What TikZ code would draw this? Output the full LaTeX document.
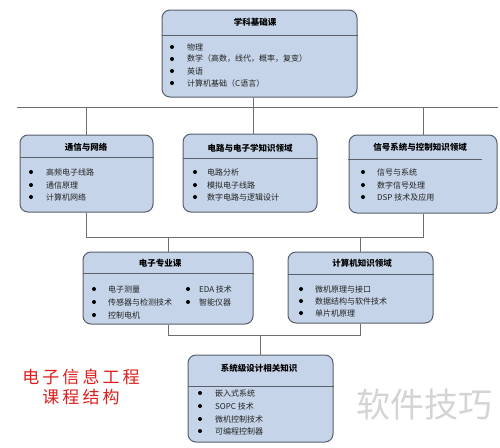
\documentclass[tikz,border=0pt]{standalone}
\usepackage{fontspec}
\newfontfamily\cjk{Noto Sans CJK SC}
\newfontfamily\cjkred[LetterSpace=18]{Noto Sans CJK SC}
\definecolor{boxfill}{RGB}{197,212,232}
\definecolor{boxborder}{RGB}{85,95,110}
\definecolor{hdrc}{RGB}{90,95,105}
\definecolor{connc}{RGB}{110,110,110}
\definecolor{txtc}{RGB}{35,35,35}
\definecolor{redc}{RGB}{222,30,30}
\definecolor{wmc}{RGB}{212,212,212}
\tikzset{
  box/.style={draw=boxborder, fill=boxfill, rounded corners=8pt, line width=1pt, inner sep=0},
  conn/.style={draw=connc, line width=0.9pt},
  hdr/.style={draw=hdrc, line width=1pt},
  ttl/.style={font=\cjk\bfseries\fontsize{8.5}{10}\selectfont, text=black, inner sep=0},
  itm/.style={font=\cjk\fontsize{8}{10}\selectfont, text=txtc, anchor=west, inner sep=0},
  dot/.style={circle, fill=black, inner sep=0, minimum size=4pt},
}
\begin{document}
\begin{tikzpicture}[x=1pt,y=-1pt]
\useasboundingbox[fill=white] (0,0) rectangle (500,447);

% boxes
\node[box, minimum width=195pt, minimum height=87pt] (top) at (259.5,53.5) {};
\node[box, minimum width=133pt, minimum height=77pt] (left) at (86.5,173.5) {};
\node[box, minimum width=134pt, minimum height=78pt] (mid) at (250,173) {};
\node[box, minimum width=148pt, minimum height=78pt] (right) at (423,174) {};
\node[box, minimum width=170pt, minimum height=72pt] (ee) at (168,288) {};
\node[box, minimum width=145pt, minimum height=71pt] (cs) at (360.5,287.5) {};
\node[box, minimum width=145pt, minimum height=87pt] (sys) at (260.5,398.5) {};

% header lines
\draw[hdr] (top.west |- 0,35) -- (top.east |- 0,35);
\draw[hdr] (left.west |- 0,157) -- (left.east |- 0,157);
\draw[hdr] (mid.west |- 0,158) -- (mid.east |- 0,158);
\draw[hdr] (348,159) -- (482,159);
\draw[hdr] (ee.west |- 0,273) -- (254,273);
\draw[hdr] (cs.west |- 0,274) -- (cs.east |- 0,274);
\draw[hdr] (sys.west |- 0,386) -- (sys.east |- 0,386);

% titles
\node[ttl] (ttop) at (255,22) {学科基础课};
\node[ttl] (tleft) at (86,147) {通信与网络};
\node[ttl] (tmid) at (250,148) {电路与电子学知识领域};
\node[ttl] (tright) at (420,147) {信号系统与控制知识领域};
\node[ttl] (tee) at (160,263) {电子专业课};
\node[ttl] (tcs) at (362,263) {计算机知识领域};
\node[ttl] (tsys) at (259,368) {系统级设计相关知识};

% items
\foreach \bx/\tx/\yy/\txt [count=\i] in {
  172/187/47/物理,
  172/187/59/数学（高数，线代，概率，复变）,
  172/187/71/英语,
  172/187/83/计算机基础（C语言）,
  31/46/172/高频电子线路,
  31/46/185/通信原理,
  31/46/197/计算机网络,
  195/207/172/电路分析,
  195/207/185/模拟电子线路,
  195/207/197/数字电路与逻辑设计,
  363/377/172/信号与系统,
  363/377/185/数字信号处理,
  363/377/197/DSP 技术及应用,
  94/108/289/电子测量,
  94/108/302/传感器与检测技术,
  94/108/315/控制电机,
  188/199/289/EDA 技术,
  188/199/302/智能仪器,
  301/315/289/微机原理与接口,
  301/315/301/数据结构与软件技术,
  301/315/313/单片机原理,
  200/215/393/嵌入式系统,
  200/215/406/SOPC 技术,
  200/215/419/微机控制技术,
  200/215/431/可编程控制器}
{
  \node[dot] (d\i) at (\bx,\yy) {};
  \node[itm] (t\i) at (\tx,\yy) {\txt};
}

% connectors
\coordinate (hl) at (17,107);
\coordinate (hr) at (498,107);
\draw[conn] (hl) -- (hr);
\draw[conn] (top.south -| 253,0) -- (mid.north -| 253,0);
\draw[conn] (left.north |- hl) -- (left.north);
\draw[conn] (right.north |- hl) -- (right.north);

\coordinate (b2) at (0,237);
\draw[conn] (left.south) |- (b2 -| right.south) -- (right.south);
\draw[conn] (ee.north |- b2) -- (ee.north);
\draw[conn] (cs.north |- b2) -- (cs.north);

\coordinate (b3) at (0,335);
\draw[conn] (ee.south) |- (b3 -| cs.south) -- (cs.south);
\draw[conn] (sys.north |- b3) -- (sys.north);

% red caption
\node[font=\cjkred\fontsize{17}{17}\selectfont, text=redc, inner sep=0] (cap1) at (81,377) {电子信息工程};
\node[font=\cjkred\fontsize{17}{17}\selectfont, text=redc, inner sep=0] (cap2) at (81,397) {课程结构};

% watermark
\node[font=\cjk\fontsize{34}{34}\selectfont, text=wmc, inner sep=0] (wm) at (424,405) {软件技巧};
\end{tikzpicture}
\end{document}
